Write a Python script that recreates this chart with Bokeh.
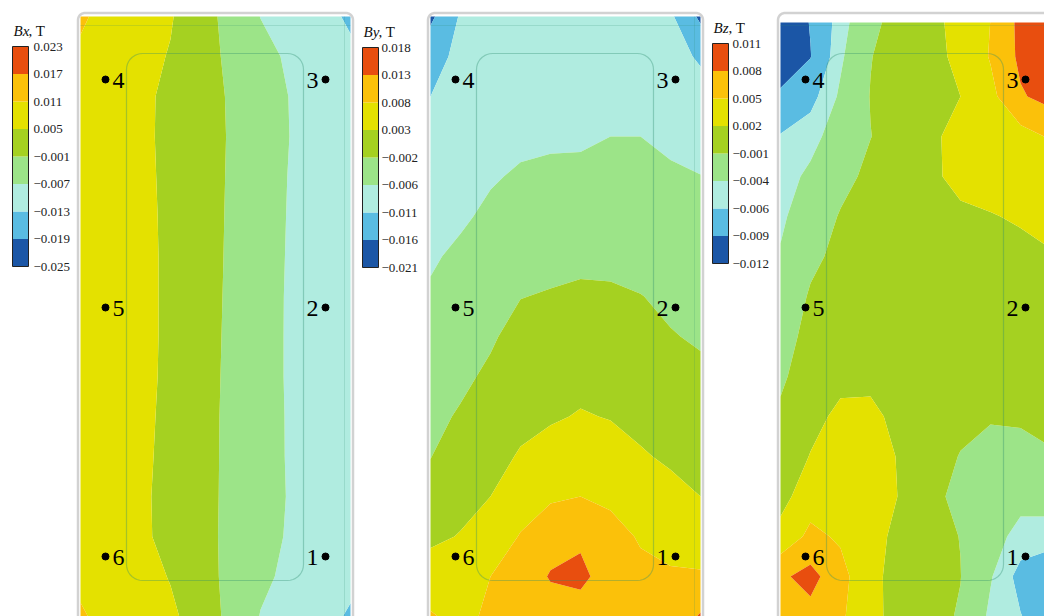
import numpy as np
from bokeh.plotting import figure
from bokeh.layouts import row
from bokeh.models import Range1d
from bokeh.core.properties import value
from bokeh.embed import file_html
from bokeh.resources import INLINE

# ---------------- data (plate coordinates, field values in mT) ----------------
plate_x = [0, 30, 60, 90, 120, 150, 180, 210, 240, 270]
plate_y = [0, 40, 80, 120, 160, 200, 240, 280, 320, 360, 400, 440, 480, 520, 560, 600]

# Bx: one list per row (top to bottom)
bx_rows = [
    [12.0, 8.5, 6.9, 5.4, 1.6, -3.0, -7.1, -8.4, -9.7, -14.5],
    [9.8, 8.1, 6.5, 4.7, 1.3, -2.1, -5.4, -7.8, -9.4, -11.0],
    [9.6, 7.8, 6.1, 3.9, 1.2, -1.5, -4.4, -7.2, -9.1, -11.0],
    [9.6, 7.8, 6.0, 3.9, 1.3, -1.4, -4.3, -7.1, -9.1, -11.0],
    [9.5, 7.8, 6.1, 4.0, 1.3, -1.5, -4.5, -7.3, -9.2, -11.0],
    [9.5, 7.8, 6.2, 4.1, 1.3, -1.6, -4.7, -7.4, -9.2, -11.0],
    [9.5, 7.9, 6.2, 4.2, 1.3, -1.7, -4.8, -7.5, -9.3, -11.0],
    [9.5, 7.9, 6.2, 4.2, 1.2, -1.8, -4.9, -7.6, -9.3, -11.0],
    [9.5, 7.9, 6.2, 4.2, 1.1, -1.9, -5.0, -7.6, -9.3, -11.0],
    [9.5, 7.9, 6.2, 4.1, 1.0, -2.0, -5.0, -7.6, -9.3, -11.0],
    [9.5, 7.8, 6.1, 3.9, 0.9, -2.1, -5.0, -7.5, -9.3, -11.0],
    [9.5, 7.75, 6.0, 3.7, 0.8, -2.1, -4.9, -7.5, -9.2, -11.0],
    [9.5, 7.7, 5.85, 3.5, 0.7, -2.1, -4.8, -7.4, -9.2, -11.0],
    [9.5, 7.7, 5.9, 3.6, 0.7, -2.2, -5.1, -7.6, -9.3, -11.0],
    [9.5, 8.0, 6.4, 4.8, 1.2, -2.4, -6.0, -8.1, -9.5, -11.0],
    [11.8, 8.6, 7.1, 5.7, 3.3, -2.9, -7.2, -8.7, -10.1, -14.0],
]

# By: one list per column (left to right), values top to bottom
by_cols = [
    [-17, -12.5, -11, -9.5, -8.5, -7.5, -6.5, -5.5, -4.7, -3.8, -3.0, -2.1, -0.5, 2.2, 5.0, 8.5],
    [-10.5, -10, -9.5, -8.8, -7.8, -6.6, -5.2, -4.4, -3.6, -2.8, -1.6, 0.2, 1.8, 3.2, 5.0, 6.5],
    [-10, -9.5, -8.8, -7.8, -6.4, -5.2, -4.2, -3.4, -2.5, -1.3, 0.0, 1.5, 3.0, 5.0, 8.0, 9.0],
    [-10, -9.3, -8.3, -6.9, -5.5, -4.5, -3.4, -2.1, -0.6, 0.6, 1.8, 3.4, 5.6, 8.3, 10.0, 9.5],
    [-10, -9.2, -8.2, -6.6, -5.2, -4.2, -3.2, -1.7, -0.2, 1.1, 2.5, 4.8, 7.4, 10.8, 13.4, 10.5],
    [-10, -9.3, -8.2, -6.5, -5.2, -4.0, -2.9, -1.3, 0.3, 1.8, 3.3, 5.5, 8.0, 12.3, 14.0, 11.0],
    [-10, -9.4, -8.2, -6.0, -5.0, -4.0, -3.0, -1.4, 0.2, 1.4, 2.8, 4.8, 7.2, 9.5, 11.0, 10.0],
    [-10, -9.4, -8.2, -6.0, -5.2, -4.3, -3.3, -1.9, -0.6, 0.6, 1.9, 3.4, 5.4, 7.6, 9.0, 9.5],
    [-10.2, -9.6, -8.5, -7.0, -5.3, -4.4, -3.6, -2.7, -1.8, -0.5, 0.9, 2.4, 4.2, 6.3, 8.6, 9.5],
    [-17, -11.5, -9.5, -8.0, -5.9, -5.0, -4.2, -3.3, -2.4, -1.3, 0.2, 1.6, 3.0, 5.6, 8.5, 13.5],
]

# Bz: one list per column (left to right), values top to bottom
bz_cols = [
    [-11.5, -10.5, -8.6, -5.8, -5.0, -4.4, -3.8, -3.0, -2.2, -1.5, -0.5, 0.5, 1.0, 3.0, 7.5, 6.0],
    [-8.8, -9.1, -6.8, -4.8, -3.5, -2.6, -1.6, -0.7, -0.1, 0.6, 1.3, 2.1, 3.7, 5.7, 9.0, 7.0],
    [-5.0, -4.4, -3.6, -2.7, -1.8, -0.8, -0.3, 0.2, 0.7, 1.4, 2.5, 3.2, 3.8, 4.6, 6.0, 5.5],
    [-2.0, -1.1, -0.9, -1.05, -0.4, 0.0, 0.3, 0.6, 1.0, 1.6, 2.4, 3.0, 3.3, 3.0, 2.7, 2.6],
    [0.3, 0.3, 0.2, 0.1, 0.2, 0.4, 0.5, 0.6, 0.8, 1.1, 1.5, 1.8, 1.85, 1.2, 1.0, 1.2],
    [1.2, 1.1, 1.0, 1.6, 1.6, 0.9, 0.6, 0.5, 0.5, 0.5, 0.3, 0.0, -0.4, -0.3, -0.6, -0.3],
    [3.0, 2.7, 2.0, 2.7, 2.6, 1.6, 1.0, 0.8, 0.6, 0.3, -0.4, -1.1, -1.6, -1.05, -0.95, -1.2],
    [5.0, 5.2, 4.2, 3.6, 2.8, 1.9, 1.1, 0.7, 0.3, -0.2, -0.8, -1.8, -2.4, -3.0, -3.8, -4.5],
    [8.8, 8.6, 7.7, 3.9, 3.2, 2.2, 1.5, 1.0, 0.5, 0.0, -0.6, -2.0, -3.2, -4.8, -6.8, -5.9],
    [10.5, 10.0, 9.0, 5.3, 4.2, 2.8, 1.8, 1.2, 0.5, -0.3, -0.7, -1.1, -3.0, -5.0, -8.0, -7.5],
]

# contour levels (mT, ascending) and their colour-bar labels (T)
bx_levels = [-25, -19, -13, -7, -1, 5, 11, 17, 23]
bx_labels = ["\u22120.025", "\u22120.019", "\u22120.013", "\u22120.007", "\u22120.001",
             "0.005", "0.011", "0.017", "0.023"]
by_levels = [-21, -16, -11, -6, -2, 3, 8, 13, 18]
by_labels = ["\u22120.021", "\u22120.016", "\u22120.011", "\u22120.006", "\u22120.002",
             "0.003", "0.008", "0.013", "0.018"]
bz_levels = [-12, -9, -6, -4, -1, 2, 5, 8, 11]
bz_labels = ["\u22120.012", "\u22120.009", "\u22120.006", "\u22120.004", "\u22120.001",
             "0.002", "0.005", "0.008", "0.011"]

band_colors = ["#1B56A6", "#5ABCE2", "#B0ECE0", "#9CE488",
               "#A5D121", "#E4E100", "#FBC10A", "#E84E0F"]

# measurement points
point_id = ["1", "2", "3", "4", "5", "6"]
point_x = [245, 245, 245, 25, 25, 25]
point_y = [540, 291, 63, 63, 291, 540]

SERIF = value("Liberation Serif")


def rounded_path(x0, y0, x1, y1, r, n=10):
    xs, ys = [], []
    for cx, cy, a0 in [(x1 - r, y0 + r, -90), (x1 - r, y1 - r, 0),
                       (x0 + r, y1 - r, 90), (x0 + r, y0 + r, 180)]:
        ang = np.radians(np.linspace(a0, a0 + 90, n))
        xs += list(cx + r * np.cos(ang))
        ys += list(cy + r * np.sin(ang))
    xs.append(xs[0])
    ys.append(ys[0])
    return xs, ys


def panel(width, x_start, z, levels, labels, sym, cbar_top, label_x, top_gap):
    p = figure(width=width, height=616,
               x_range=Range1d(x_start, x_start + width), y_range=Range1d(600, -16),
               toolbar_location=None, output_backend="svg", min_border=0,
               x_axis_location=None, y_axis_location=None)
    p.grid.visible = False
    p.outline_line_color = None
    p.background_fill_color = "white"
    p.border_fill_color = "white"

    # filled contour map
    p.contour(x=plate_x, y=plate_y, z=z, levels=levels, fill_color=band_colors)
    if top_gap > 0:
        p.quad(left=-1, right=272, top=-1, bottom=top_gap, fill_color="white",
               line_color=None)

    # plate outlines
    fx, fy = rounded_path(-2.5, -3.5, 272.5, 650, 7)
    p.line(fx, fy, line_color="#D2D2D2", line_width=2.5)
    ix, iy = rounded_path(46, 37, 223, 564, 16)
    p.line(ix, iy, line_color="#2E8B6E", line_alpha=0.35, line_width=1.2)
    p.line([0, 270], [9, 9], line_color="#2E8B6E", line_alpha=0.18, line_width=1)
    p.line([264, 264], [0, 600], line_color="#2E8B6E", line_alpha=0.18, line_width=1)

    # colour bar
    n = len(levels) - 1
    step = 220.0 / n
    bottoms = [cbar_top + 220 - k * step for k in range(n)]
    tops = [b - step for b in bottoms]
    p.quad(left=-68, right=-52, bottom=bottoms, top=tops,
           fill_color=band_colors, line_color=None)
    p.quad(left=-68, right=-52, bottom=cbar_top + 220, top=cbar_top,
           fill_color=None, line_color="#222222", line_width=1)
    ly = [cbar_top + 220 - k * step for k in range(len(levels))]
    p.text(x=[label_x] * len(labels), y=ly, text=labels, text_font=SERIF,
           text_font_size="13px", text_baseline="middle", text_align="left",
           text_color="#222222")
    ty = cbar_top - 16
    p.text(x=[-67], y=[ty], text=[sym], text_font=SERIF, text_font_style="italic",
           text_font_size="15px", text_baseline="middle", text_align="left",
           text_color="#111111")
    p.text(x=[-52], y=[ty], text=[", T"], text_font=SERIF,
           text_font_size="15px", text_baseline="middle", text_align="left",
           text_color="#111111")

    # measurement points
    p.scatter(point_x, point_y, size=7, color="black")
    left = [i for i in range(len(point_id)) if point_x[i] < 135]
    right = [i for i in range(len(point_id)) if point_x[i] >= 135]
    p.text(x=[point_x[i] + 7 for i in left], y=[point_y[i] + 1 for i in left],
           text=[point_id[i] for i in left], text_font=SERIF, text_font_size="24px",
           text_baseline="middle", text_align="left", text_color="black")
    p.text(x=[point_x[i] - 7 for i in right], y=[point_y[i] + 1 for i in right],
           text=[point_id[i] for i in right], text_font=SERIF, text_font_size="24px",
           text_baseline="middle", text_align="right", text_color="black")
    return p


p1 = panel(357, -80, np.array(bx_rows), bx_levels, bx_labels, "Bx", 30, -47, 0)
p2 = panel(350, -73, np.array(by_cols).T, by_levels, by_labels, "By", 31, -49, 0)
p3 = panel(337, -73, np.array(bz_cols).T, bz_levels, bz_labels, "Bz", 27, -48, 6)

layout = row(p1, p2, p3, spacing=0)
open("out.html", "w").write(file_html(layout, INLINE))
